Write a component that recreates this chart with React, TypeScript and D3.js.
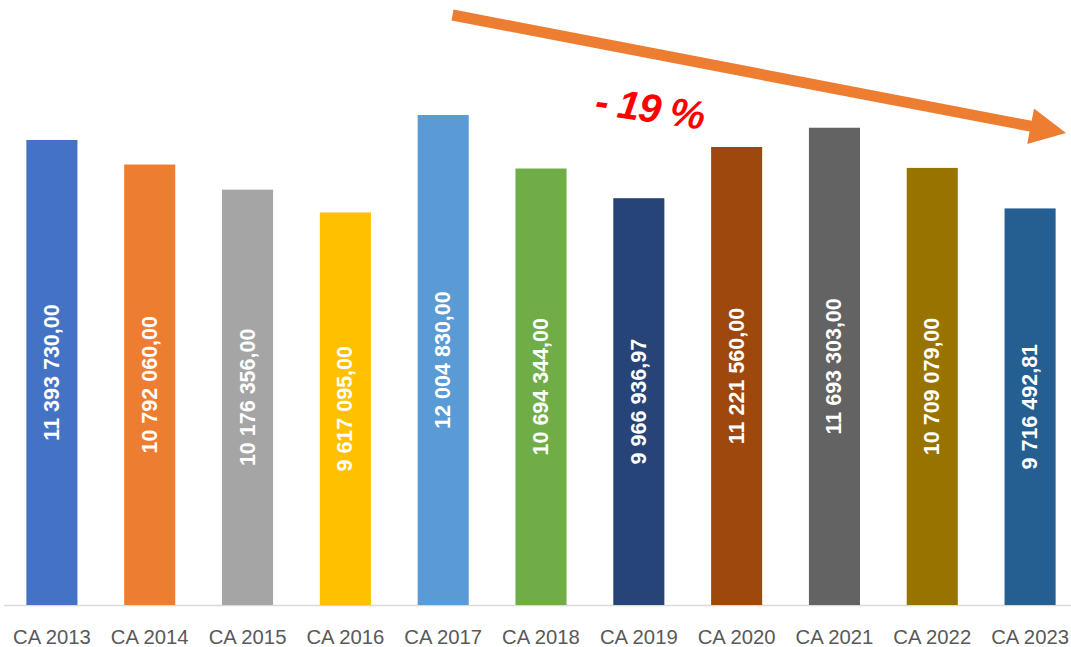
import React from "react";
import * as d3 from "d3";

const categories = ["CA 2013","CA 2014","CA 2015","CA 2016","CA 2017","CA 2018","CA 2019","CA 2020","CA 2021","CA 2022","CA 2023"];
const values = [11393730.0, 10792060.0, 10176356.0, 9617095.0, 12004830.0, 10694344.0, 9966936.97, 11221560.0, 11693303.0, 10709079.0, 9716492.81];
const valueLabels = ["11 393 730,00","10 792 060,00","10 176 356,00","9 617 095,00","12 004 830,00","10 694 344,00","9 966 936,97","11 221 560,00","11 693 303,00","10 709 079,00","9 716 492,81"];
const colors = ["#4472C4","#ED7D31","#A5A5A5","#FFC000","#5B9BD5","#70AD47","#264478","#9E480E","#636363","#997300","#255E91"];
const trendLabel = "- 19 %";

const W = 1071, H = 647;

function arrowPath(x1: number, y1: number, x2: number, y2: number, t: number, hw: number, hl: number) {
  const dx = x2 - x1, dy = y2 - y1;
  const L = Math.hypot(dx, dy);
  const ux = dx / L, uy = dy / L;
  const px = -uy, py = ux;
  const bx = x2 - ux * hl, by = y2 - uy * hl;
  const pts = [
    [x1 + px * t / 2, y1 + py * t / 2],
    [bx + px * t / 2, by + py * t / 2],
    [bx + px * hw / 2, by + py * hw / 2],
    [x2, y2],
    [bx - px * hw / 2, by - py * hw / 2],
    [bx - px * t / 2, by - py * t / 2],
    [x1 - px * t / 2, y1 - py * t / 2],
  ];
  return "M" + pts.map(p => p[0].toFixed(1) + "," + p[1].toFixed(1)).join("L") + "Z";
}

export default function App() {
  const baseY = 605;
  const x = d3.scaleBand<string>().domain(categories).range([3, 1079]).paddingInner(0.478).paddingOuter(0.239);
  const y = d3.scaleLinear().domain([0, 14000000]).range([baseY, baseY - 14000000 * 4.0815e-5]);
  const bw = x.bandwidth();
  return (
    <svg width={W} height={H} style={{ position: "absolute", left: 0, top: 0, background: "#fff" }}>
      <line x1={4} x2={W} y1={baseY + 0.5} y2={baseY + 0.5} stroke="#D9D9D9" strokeWidth={1.5} />
      {categories.map((c, i) => {
        const x0 = x(c)!;
        const yt = y(values[i]);
        const cx = x0 + bw / 2;
        const cy = (yt + baseY) / 2;
        return (
          <g key={c}>
            <rect x={x0} y={yt} width={bw} height={baseY - yt} fill={colors[i]} />
            <text x={cx} y={cy} transform={`rotate(-90 ${cx} ${cy})`} textAnchor="middle" dominantBaseline="central"
              fill="#fff" fontFamily="'Liberation Sans', Arial, sans-serif" fontWeight="bold" fontSize={21.5}>{valueLabels[i]}</text>
            <text x={cx} y={644} textAnchor="middle" fill="#595959" fontFamily="'Liberation Sans', Arial, sans-serif" fontSize={20.3}>{c}</text>
          </g>
        );
      })}
      <path d={arrowPath(452.5, 15, 1066, 133, 11, 36, 36)} fill="#ED7D31" />
      <text x={650} y={122} transform="rotate(8 650 108)" textAnchor="middle" fill="#FF0000"
        fontFamily="'Liberation Sans', Arial, sans-serif" fontWeight="bold" fontStyle="italic" fontSize={40} letterSpacing={-1}>{trendLabel}</text>
    </svg>
  );
}
